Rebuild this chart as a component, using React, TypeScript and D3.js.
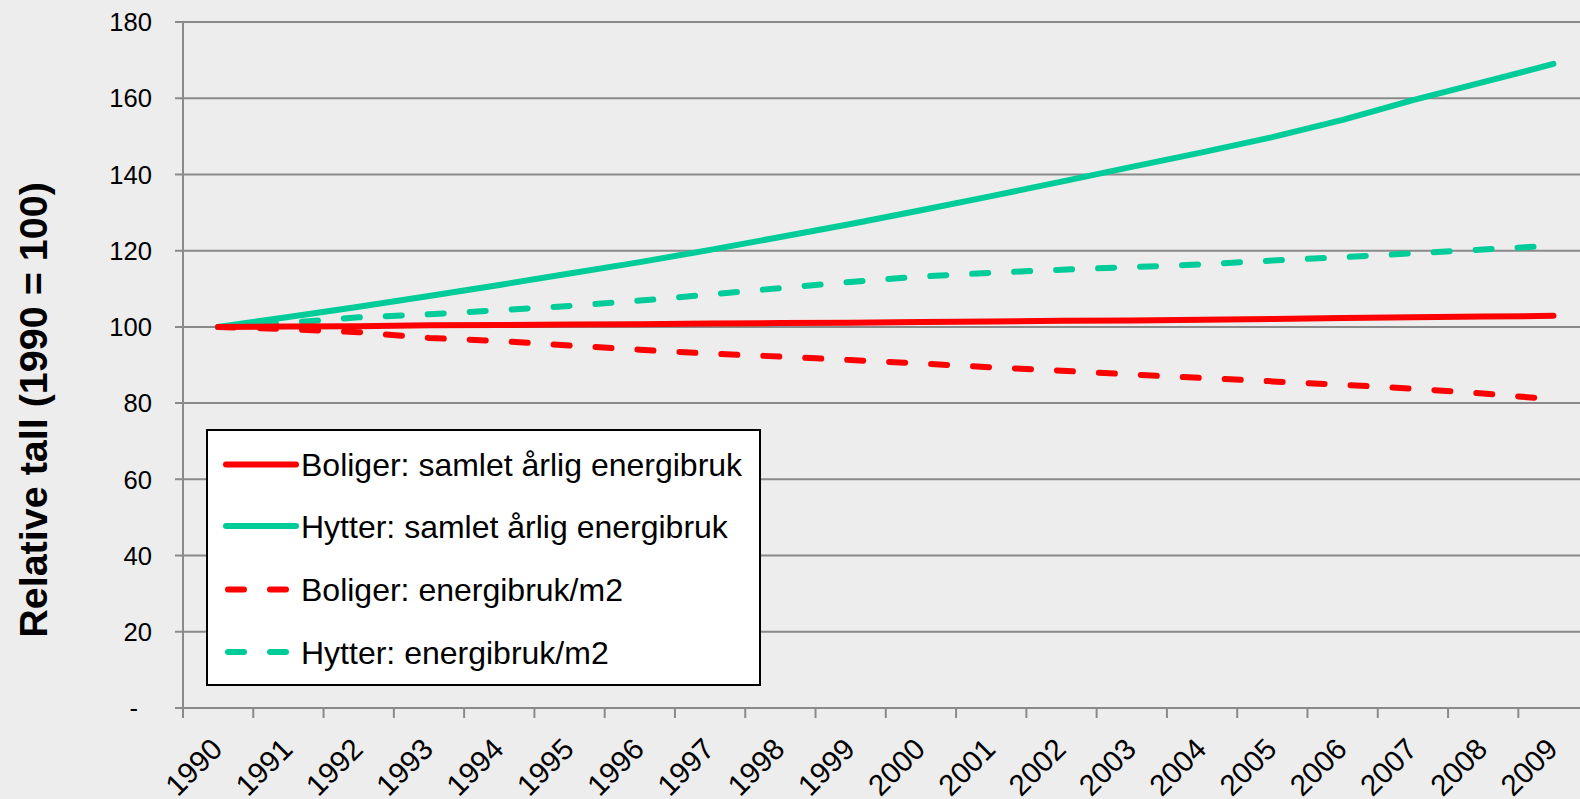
import { useEffect, useRef } from "react";
import * as d3 from "d3";

const years = [
  "1990", "1991", "1992", "1993", "1994", "1995", "1996", "1997", "1998", "1999",
  "2000", "2001", "2002", "2003", "2004", "2005", "2006", "2007", "2008", "2009",
];

const boligerSamlet = [
  100, 100.1, 100.2, 100.4, 100.5, 100.6, 100.7, 100.9, 101.0, 101.1,
  101.3, 101.4, 101.6, 101.7, 101.9, 102.1, 102.3, 102.5, 102.7, 102.9,
];
const hytterSamlet = [
  100, 102.6, 105.3, 108.1, 111, 114, 117, 120.2, 123.6, 127,
  130.6, 134.3, 138.1, 142, 145.8, 149.8, 154.3, 159.5, 164.2, 169,
];
const boligerPerM2 = [
  100, 99.4, 98.6, 97.1, 96.3, 95.1, 94.0, 93.0, 92.2, 91.3,
  90.4, 89.4, 88.5, 87.5, 86.6, 85.7, 84.8, 83.8, 82.5, 81,
];
const hytterPerM2 = [
  100, 101.1, 102.5, 103.3, 104.4, 105.5, 106.9, 108.5, 110.2, 111.8,
  113.2, 114.2, 115, 115.7, 116.4, 117.4, 118.3, 119.3, 120.3, 121.3,
];

const yTicks = [0, 20, 40, 60, 80, 100, 120, 140, 160, 180];

const series = [
  { name: "Boliger: samlet årlig energibruk", values: boligerSamlet, color: "#ff0000", dashed: false },
  { name: "Hytter: samlet årlig energibruk", values: hytterSamlet, color: "#00cc99", dashed: false },
  { name: "Boliger: energibruk/m2", values: boligerPerM2, color: "#ff0000", dashed: true },
  { name: "Hytter: energibruk/m2", values: hytterPerM2, color: "#00cc99", dashed: true },
];

const W = 1580;
const H = 799;
const FONT = "'Liberation Sans', Arial, sans-serif";

export default function App() {
  const svgRef = useRef<SVGSVGElement>(null);

  useEffect(() => {
    const svg = d3.select(svgRef.current);
    svg.selectAll("*").remove();

    const left = 183;
    const band = 70.28;
    const x = d3
      .scaleBand()
      .domain(years)
      .range([left, left + band * years.length])
      .padding(0);
    const y = d3.scaleLinear().domain([0, 180]).range([708, 22]);
    const cx = (yr: string) => (x(yr) as number) + x.bandwidth() / 2;

    svg.append("rect").attr("width", W).attr("height", H).attr("fill", "#ededed");

    // gridlines + y ticks
    const grid = svg.append("g");
    yTicks.forEach((t) => {
      grid
        .append("line")
        .attr("x1", 175)
        .attr("x2", W)
        .attr("y1", y(t))
        .attr("y2", y(t))
        .attr("stroke", "#8a8a8a")
        .attr("stroke-width", 2);
      grid
        .append("text")
        .attr("x", t === 0 ? 138 : 152)
        .attr("y", y(t))
        .attr("dy", "0.36em")
        .attr("text-anchor", "end")
        .attr("font-family", FONT)
        .attr("font-size", 25.6)
        .attr("fill", "#000")
        .text(t === 0 ? "-" : String(t));
    });

    // y axis line
    svg
      .append("line")
      .attr("x1", left)
      .attr("x2", left)
      .attr("y1", y(180))
      .attr("y2", y(0))
      .attr("stroke", "#8a8a8a")
      .attr("stroke-width", 2);

    // x ticks and labels
    const xa = svg.append("g");
    years.forEach((yr) => {
      xa.append("line")
        .attr("x1", x(yr) as number)
        .attr("x2", x(yr) as number)
        .attr("y1", y(0))
        .attr("y2", y(0) + 10)
        .attr("stroke", "#8a8a8a")
        .attr("stroke-width", 2);
      xa.append("text")
        .attr("transform", `translate(${cx(yr) + 6},${751}) rotate(-45)`)
        .attr("text-anchor", "end")
        .attr("font-family", FONT)
        .attr("font-size", 29.5)
        .attr("fill", "#000")
        .text(yr);
    });

    // y title
    svg
      .append("text")
      .attr("transform", "translate(47,410) rotate(-90)")
      .attr("text-anchor", "middle")
      .attr("font-family", FONT)
      .attr("font-weight", "bold")
      .attr("font-size", 39.5)
      .attr("fill", "#000")
      .text("Relative tall (1990 = 100)");

    // lines
    const line = d3
      .line<number>()
      .x((_, i) => cx(years[i]))
      .y((d) => y(d));

    [series[3], series[2], series[1], series[0]].forEach((s) => {
      svg
        .append("path")
        .attr("d", line(s.values))
        .attr("fill", "none")
        .attr("stroke", s.color)
        .attr("stroke-width", 6)
        .attr("stroke-linecap", "round")
        .attr("stroke-linejoin", "round")
        .attr("stroke-dasharray", s.dashed ? "16 26" : null);
    });

    // legend
    const lg = svg.append("g");
    lg.append("rect")
      .attr("x", 207)
      .attr("y", 430)
      .attr("width", 553)
      .attr("height", 255)
      .attr("fill", "#ffffff")
      .attr("stroke", "#000")
      .attr("stroke-width", 2);
    const rowY = [464.5, 526, 589.5, 652];
    series.forEach((s, i) => {
      lg.append("line")
        .attr("x1", s.dashed ? 228 : 226)
        .attr("x2", 296)
        .attr("y1", rowY[i])
        .attr("y2", rowY[i])
        .attr("stroke", s.color)
        .attr("stroke-width", 6)
        .attr("stroke-linecap", "round")
        .attr("stroke-dasharray", s.dashed ? "16 26" : null);
      lg.append("text")
        .attr("x", 301)
        .attr("y", rowY[i])
        .attr("dy", "0.36em")
        .attr("font-family", FONT)
        .attr("font-size", 32)
        .attr("fill", "#000")
        .text(s.name);
    });
  }, []);

  return (
    <svg
      ref={svgRef}
      width={W}
      height={H}
      style={{ position: "absolute", left: 0, top: 0, display: "block" }}
    />
  );
}
